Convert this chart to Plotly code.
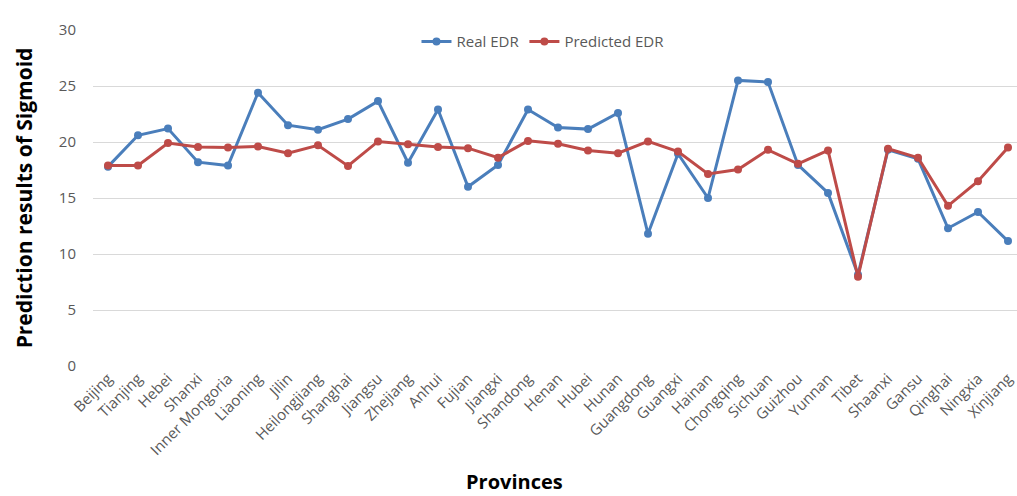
import plotly.graph_objects as go

provinces = ["Beijing", "Tianjing", "Hebei", "Shanxi", "Inner Mongoria", "Liaoning", "Jilin",
             "Heilongjiang", "Shanghai", "Jiangsu", "Zhejiang", "Anhui", "Fujian", "Jiangxi",
             "Shandong", "Henan", "Hubei", "Hunan", "Guangdong", "Guangxi", "Hainan",
             "Chongqing", "Sichuan", "Guizhou", "Yunnan", "Tibet", "Shaanxi", "Gansu",
             "Qinghai", "Ningxia", "Xinjiang"]

real_edr = [17.8, 20.6, 21.2, 18.2, 17.9, 24.4, 21.5, 21.1, 22.05, 23.65, 18.15, 22.9, 16.0, 17.95,
            22.9, 21.3, 21.15, 22.6, 11.8, 18.95, 15.0, 25.5, 25.35, 17.95, 15.45, 8.15, 19.3,
            18.5, 12.3, 13.75, 11.15]

pred_edr = [17.9, 17.9, 19.9, 19.55, 19.5, 19.6, 19.0, 19.7, 17.86, 20.05, 19.8, 19.55, 19.45, 18.6,
            20.1, 19.85, 19.25, 19.0, 20.05, 19.15, 17.15, 17.55, 19.3, 18.05, 19.25, 7.97, 19.4,
            18.6, 14.3, 16.5, 19.5]

BLUE = "#4A7EBB"
RED = "#BE4B48"
FONT = "Open Sans"

fig = go.Figure()
fig.add_trace(go.Scatter(x=provinces, y=real_edr, name="Real EDR", mode="lines+markers",
                         line=dict(color=BLUE, width=3), marker=dict(color=BLUE, size=8)))
fig.add_trace(go.Scatter(x=provinces, y=pred_edr, name="Predicted EDR", mode="lines+markers",
                         line=dict(color=RED, width=3), marker=dict(color=RED, size=8)))

fig.update_layout(
    width=1017, height=496,
    margin=dict(l=93, r=0, t=30, b=130, autoexpand=False),
    paper_bgcolor="white", plot_bgcolor="white",
    font=dict(family=FONT, color="#595959"),
    showlegend=True,
    legend=dict(orientation="h", x=0.487, xanchor="center", y=0.965, yanchor="middle",
                font=dict(size=15, color="#595959"), bgcolor="rgba(0,0,0,0)",
                itemwidth=30),
    xaxis=dict(range=[-0.5, 30.3], tickangle=-45, showgrid=False, showline=False,
               zeroline=False, tickfont=dict(size=15, color="#595959")),
    yaxis=dict(range=[0, 30], dtick=5, showgrid=True, gridcolor="#D9D9D9", gridwidth=1,
               zeroline=False, showline=False, tickfont=dict(size=15, color="#595959"),
               ticklabelstandoff=16,
               title=dict(text="<b>Prediction results of Sigmoid</b>", font=dict(size=21, color="black"),
                          standoff=20)),
    annotations=[dict(text="<b>Provinces</b>", xref="paper", yref="paper", x=0.456, y=-0.345,
                      xanchor="center", yanchor="middle", showarrow=False,
                      font=dict(size=20, color="black", family=FONT))],
)

fig.write_html("out.html")
